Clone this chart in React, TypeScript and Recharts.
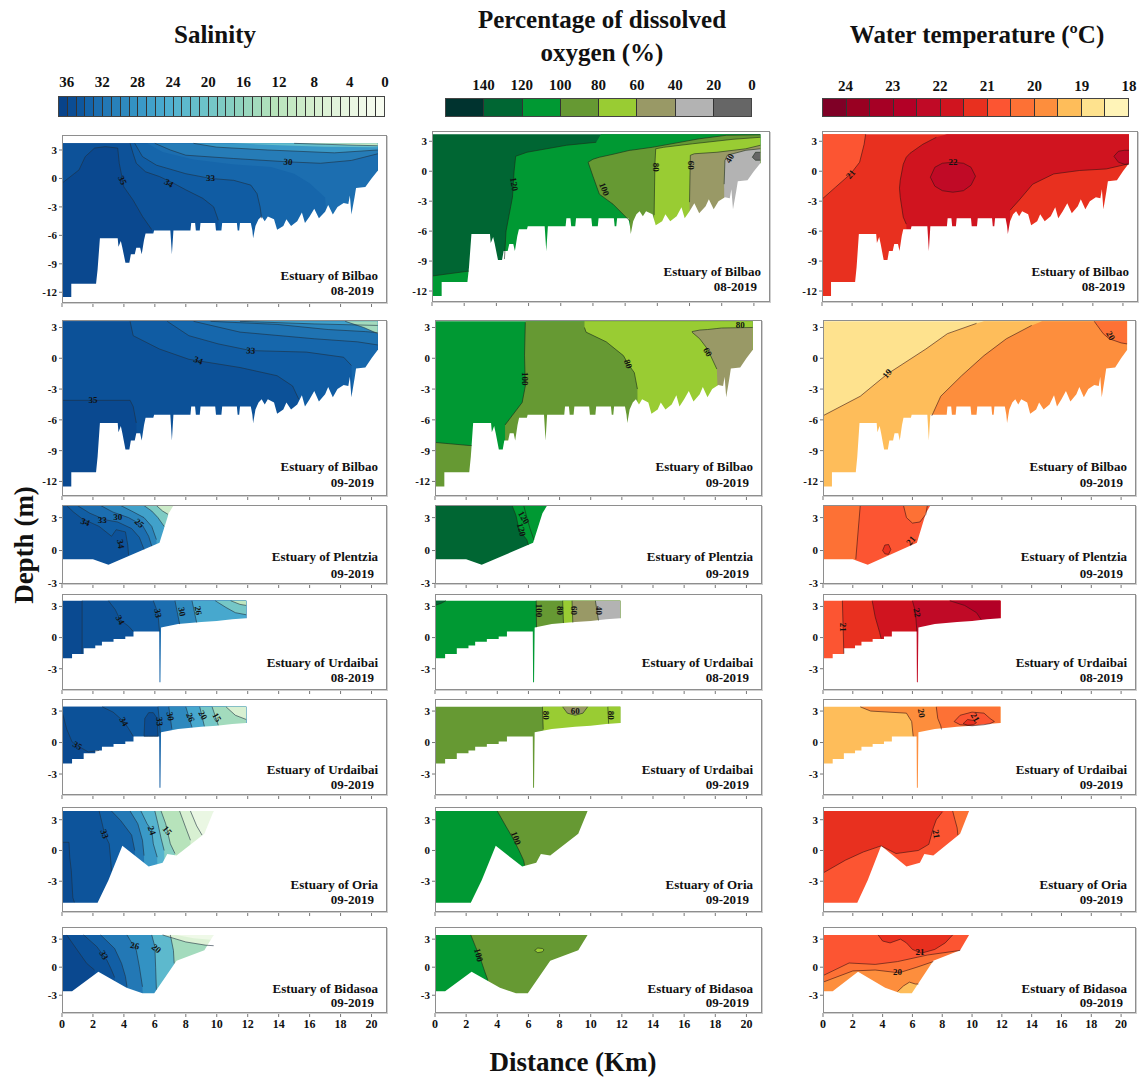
import React from "react";
import { ComposedChart, Area, Line, Scatter, XAxis, YAxis } from "recharts";

const FONT = '"Liberation Serif", "Times New Roman", Times, serif';

// axis ticks
const xTicks = [0, 2, 4, 6, 8, 10, 12, 14, 16, 18, 20];
const deepTicks = [3, 0, -3, -6, -9, -12];
const shallowTicks = [3, 0, -3];

// colour bar classes
const salBarValues = [36, 35, 34, 33, 32, 31, 30, 29, 28, 27, 26, 25, 24, 23, 22, 21, 20, 19, 18, 17, 16, 15, 14, 13, 12, 11, 10, 9, 8, 7, 6, 5, 4, 3, 2, 1, 0];
const salBarLabels = [36, 32, 28, 24, 20, 16, 12, 8, 4, 0];
const oxyBarValues = [150, 130, 110, 90, 70, 50, 30, 10];
const oxyBarLabels = [140, 120, 100, 80, 60, 40, 20, 0];
const tempBarValues = [24.25, 23.75, 23.25, 22.75, 22.25, 21.75, 21.25, 20.75, 20.25, 19.75, 19.25, 18.75, 18.25];
const tempBarLabels = [24, 23, 22, 21, 20, 19, 18];

// bathymetry: [distance km, depth m]
const bilbaoBed = [[0, -12.5], [0.6, -12.5], [0.6, -11.1], [2.2, -11.1], [2.3, -9.6], [2.45, -6.3], [3.6, -6.3], [3.65, -7.2], [3.8, -6.6], [3.9, -7.3], [4.1, -8.9], [4.35, -8.9], [4.45, -8.0], [4.7, -8.0], [4.8, -7.3], [5.05, -7.3], [5.15, -8.0], [5.3, -6.5], [5.4, -5.8], [5.9, -5.8], [5.95, -5.5], [7.0, -5.5], [7.1, -8.0], [7.2, -5.5], [8.3, -5.5], [8.35, -4.7], [8.6, -4.7], [8.65, -5.5], [8.9, -5.5], [8.95, -4.7], [9.9, -4.7], [9.95, -5.5], [10.3, -5.5], [10.35, -4.7], [11.3, -4.7], [11.35, -5.5], [11.45, -5.5], [11.5, -4.7], [12.2, -4.7], [12.3, -5.5], [12.35, -6.3], [12.5, -5.0], [12.7, -4.3], [12.9, -4.0], [13.1, -4.5], [13.3, -4.0], [13.7, -4.3], [13.9, -5.4], [14.3, -5.0], [14.5, -4.3], [14.8, -5.0], [15.2, -4.5], [15.5, -3.6], [15.7, -4.7], [16.0, -4.0], [16.3, -3.2], [16.6, -4.2], [17.0, -3.5], [17.2, -2.8], [17.5, -3.8], [17.8, -3.0], [18.2, -2.6], [18.5, -2.7], [18.6, -1.8], [18.7, -3.8], [18.9, -2.0], [19.0, -1.0], [19.6, -0.9], [20.0, 0.0], [20.4, 0.8]];
const plentziaBed = [[0, -0.8], [2.0, -0.8], [3.0, -1.3], [6.3, 0.7], [6.9, 3.4], [7.2, 4.1]];
const urdaibaiBed = [[0, -2], [0.65, -2], [0.65, -1.58], [1.4, -1.58], [1.4, -1.03], [2.15, -1.03], [2.15, -0.77], [2.58, -0.77], [2.58, -0.39], [3.33, -0.39], [3.33, -0.13], [4.09, -0.13], [4.09, 0.1], [4.62, 0.1], [4.62, 0.58], [6.28, 0.58], [6.3, -4.3], [6.36, -4.3], [6.4, 0.97], [7.5, 1.3], [9, 1.5], [10, 1.6], [11, 1.77], [11.9, 1.87]];
const oriaBed = [[0, -5.1], [2.3, -5.1], [3.0, -2.9], [3.9, 0.45], [5.6, -1.56], [6.5, -1.2], [6.8, -0.35], [7.4, -0.5], [9.2, 1.63], [9.8, 3.85]];
const bidasoaBed = [[0, -2.57], [0.65, -2.57], [2.35, -0.5], [4.17, -2.2], [5.2, -2.8], [5.96, -2.8], [7.4, 0.68], [9.2, 1.8], [9.8, 3.45]];

// contour regions: v = class value, p = [x, lower, upper?] (upper defaults to water surface)
const salB08 = [
  { v: 35.5, p: [[0, -13.3], [20.4, -13.3]] },
  { v: 34.5, ln: "lo", p: [[0, -0.5], [1.1, 0.9], [1.5, 2.3], [2.1, 3.2], [2.8, 3.35], [3.6, 3.2], [3.7, 1.6], [4.0, -0.9], [4.6, -2.3], [5.2, -4.0], [5.8, -5.4], [6.0, -13.3], [20.4, -13.3]] },
  { v: 33.6, ln: "lo", p: [[4.4, 3.7], [4.6, 2.6], [4.8, 1.6], [5.4, 0.7], [6.3, 0.2], [7.2, -0.5], [8.0, -1.2], [9.1, -2.1], [9.8, -3.0], [10.1, -4.4], [10.2, -13.3], [20.4, -13.3]] },
  { v: 32.8, ln: "lo", p: [[4.7, 3.7], [5.2, 2.3], [6.1, 1.4], [8.0, 0.5], [9.6, 0], [11.1, -0.2], [12.2, -0.7], [12.6, -1.6], [12.8, -3.0], [12.9, -4.2], [13.0, -13.3], [20.4, -13.3]] },
  { v: 32.0, p: [[5.5, 3.7], [6.5, 2.8], [8.5, 2.0], [11, 1.5], [13.5, 1.2], [15, 0.5], [16, -0.5], [17, -2], [17.5, -13.3], [20.4, -13.3]] },
  { v: 30.5, ln: "lo", p: [[6.0, 3.7], [7.0, 3.0], [8.0, 2.45], [11.1, 2.1], [14.6, 1.75], [16.7, 1.6], [18.7, 1.9], [20.4, 2.6]] },
  { v: 27, ln: "lo", p: [[8.5, 3.7], [10, 3.3], [13.3, 3.0], [17.6, 2.7], [20.4, 3.0]] },
  { v: 21, p: [[11, 3.7], [14, 3.5], [17, 3.35], [20.4, 3.3]] },
  { v: 10, ln: "lo", p: [[15, 3.7], [17, 3.6], [19, 3.5], [20.4, 3.45]] },
];
const salB09 = [
  { v: 35.4, p: [[0, -13.5], [20.4, -13.5]] },
  { v: 34.6, ln: "lo", p: [[0, -4.1], [4.4, -4.1], [4.6, -4.7], [4.8, -6.3], [4.9, -13.5], [20.4, -13.5]] },
  { v: 33.6, ln: "lo", p: [[4.4, 3.6], [4.6, 2.2], [6.3, 0.9], [8.2, -0.1], [11.5, -0.9], [13.9, -1.7], [14.9, -2.7], [15.3, -4.0], [15.5, -13.5], [20.4, -13.5]] },
  { v: 32.7, ln: "lo", p: [[6.8, 3.6], [8.2, 2.2], [10.1, 1.4], [12.2, 0.75], [15.8, 0.6], [18.2, 0.1], [18.7, -0.7], [19.0, -13.5], [20.4, -13.5]] },
  { v: 31.5, ln: "lo", p: [[8.5, 3.6], [11.5, 2.55], [16.3, 1.9], [19.1, 1.6], [20.4, 1.3]] },
  { v: 29.5, ln: "lo", p: [[9.6, 3.6], [13.9, 3.3], [17.2, 2.8], [19.6, 2.6], [20.4, 2.5]] },
  { v: 26, ln: "lo", p: [[11.5, 3.6], [16.3, 3.35], [20.4, 3.2]] },
  { v: 14, ln: "lo", p: [[18.3, 3.6], [19.5, 3.0], [20.4, 2.4]] },
];
const salPl = [
  { v: 34.5, p: [[0, -3.2], [7.2, -3.2]] },
  { v: 33.5, ln: "lo", p: [[0.3, 4.1], [0.75, 3.5], [1.3, 2.9], [2.4, 2.2], [3.2, 1.3], [3.5, 1.9], [4.1, 1.7], [4.25, 0.5], [4.3, -0.4], [4.35, -3.2], [7.2, -3.2]] },
  { v: 32, ln: "lo", p: [[1.0, 4.1], [1.8, 3.4], [2.8, 2.8], [3.6, 2.6], [4.5, 2.0], [5.0, 1.2], [5.3, 0.1], [5.35, -3.2], [7.2, -3.2]] },
  { v: 29.5, ln: "lo", p: [[2.5, 4.1], [3.3, 3.5], [4.3, 3.0], [5.2, 2.3], [5.6, 1.3], [5.8, 0.4], [5.85, -3.2], [7.2, -3.2]] },
  { v: 26, ln: "lo", p: [[3.8, 4.1], [4.5, 3.6], [5.3, 3.0], [5.8, 2.2], [6.1, 1.0], [6.15, -3.2], [7.2, -3.2]] },
  { v: 18, ln: "lo", p: [[5.3, 4.1], [5.8, 3.6], [6.2, 3.0], [6.6, 2.2], [6.65, -3.2], [7.2, -3.2]] },
  { v: 9, ln: "lo", p: [[6.1, 4.1], [6.5, 3.6], [6.85, 3.3], [6.9, -3.2], [7.2, -3.2]] },
];
const salU08 = [
  { v: 35.3, p: [[0, -5.2], [11.9, -5.2]] },
  { v: 34.6, ln: "lo", p: [[1.3, 3.55], [1.3, -1.55], [1.35, -5.2], [11.9, -5.2]] },
  { v: 33.7, ln: "lo", p: [[3.0, 3.55], [3.44, 2.7], [3.76, 1.7], [4.3, 1.1], [4.6, 0.6], [4.65, -5.2], [11.9, -5.2]] },
  { v: 32, ln: "lo", p: [[5.9, 3.55], [6.2, 2.35], [6.3, 0.6], [6.32, -5.2], [11.9, -5.2]] },
  { v: 29, ln: "lo", p: [[7.3, 3.55], [7.6, 1.3], [7.65, -5.2], [11.9, -5.2]] },
  { v: 25, ln: "lo", p: [[8.4, 3.55], [8.7, 1.45], [8.75, -5.2], [11.9, -5.2]] },
  { v: 19, ln: "lo", p: [[9.9, 3.55], [10.6, 2.9], [11.2, 2.4], [11.9, 2.2]] },
  { v: 11, ln: "lo", p: [[10.9, 3.55], [11.5, 3.2], [11.9, 3.1]] },
];
const salU09 = [
  { v: 35.3, p: [[0, -5.2], [11.9, -5.2]] },
  { v: 34.6, ln: "lo", p: [[0, 3.0], [0.3, 1.3], [0.65, 0.06], [1.0, -0.3], [1.7, -0.9], [2.4, -0.75], [2.45, -5.2], [11.9, -5.2]] },
  { v: 33.6, ln: "lo", p: [[2.6, 3.4], [3.3, 2.9], [4.0, 2.0], [4.3, 1.33], [4.6, 0.6], [4.65, -5.2], [11.9, -5.2]] },
  { v: 35.0, ln: "both", p: [[5.3, 0.6, 0.6], [5.35, 0.6, 2.3], [5.6, 0.6, 2.85], [5.9, 0.6, 2.85], [6.15, 0.6, 2.3], [6.2, 0.6, 0.6]] },
  { v: 32, ln: "lo", p: [[6.2, 3.4], [6.3, 2.0], [6.35, 0.9], [6.4, -5.2], [11.9, -5.2]] },
  { v: 29, ln: "lo", p: [[6.9, 3.4], [7.1, 1.3], [7.15, -5.2], [11.9, -5.2]] },
  { v: 25, ln: "lo", p: [[8.0, 3.4], [8.4, 1.45], [8.45, -5.2], [11.9, -5.2]] },
  { v: 19, ln: "lo", p: [[8.9, 3.4], [9.2, 1.55], [9.25, -5.2], [11.9, -5.2]] },
  { v: 14, ln: "lo", p: [[9.7, 3.4], [10.1, 1.65], [10.15, -5.2], [11.9, -5.2]] },
  { v: 7, ln: "lo", p: [[10.6, 3.4], [11.2, 2.6], [11.9, 2.2]] },
];
const salOr = [
  { v: 35.2, p: [[0, -6.2], [9.8, -6.2]] },
  { v: 34.3, ln: "lo", p: [[0, 0.8], [0.45, 0.8], [0.5, -0.65], [0.6, -1.95], [0.65, -3.25], [0.7, -4.6], [0.8, -5.05], [0.85, -6.2], [9.8, -6.2]] },
  { v: 33.3, ln: "lo", p: [[2.4, 3.85], [2.6, 2.6], [2.75, 1.6], [3.05, 0.65], [3.15, -1.0], [3.2, -2.0], [3.25, -6.2], [9.8, -6.2]] },
  { v: 31, ln: "lo", p: [[3.2, 3.85], [3.8, 2.9], [4.5, 1.5], [4.7, 0], [4.75, -6.2], [9.8, -6.2]] },
  { v: 27, ln: "lo", p: [[4.4, 3.85], [4.9, 2.6], [5.2, 1.0], [5.3, -0.5], [5.35, -6.2], [9.8, -6.2]] },
  { v: 23, ln: "lo", p: [[5.1, 3.85], [5.5, 2.6], [5.8, 1.95], [5.9, 0.65], [6.15, -0.65], [6.2, -6.2], [9.8, -6.2]] },
  { v: 17, ln: "lo", p: [[6.0, 3.85], [6.2, 2.6], [6.4, 1.2], [6.6, 0], [6.7, -6.2], [9.8, -6.2]] },
  { v: 12, ln: "lo", p: [[6.4, 3.85], [6.7, 2.6], [7.0, 0.65], [7.3, -0.3], [7.35, -6.2], [9.8, -6.2]] },
  { v: 7, ln: "lo", p: [[7.6, 3.85], [8.0, 2.2], [8.3, 1.0], [8.35, -6.2], [9.8, -6.2]] },
  { v: 3, ln: "lo", p: [[8.3, 3.85], [8.7, 2.4], [9.05, 1.5], [9.1, -6.2], [9.8, -6.2]] },
];
const salBi = [
  { v: 35.5, p: [[0, -5.1], [9.8, -5.1]] },
  { v: 34.6, ln: "lo", p: [[0.3, 3.45], [1.0, 1.8], [1.6, 0.4], [2.1, -0.3], [2.15, -5.1], [9.8, -5.1]] },
  { v: 33.4, ln: "lo", p: [[1.4, 3.45], [2.25, 2.2], [2.9, 0.75], [3.2, -0.3], [3.4, -1.1], [3.45, -5.1], [9.8, -5.1]] },
  { v: 31, ln: "lo", p: [[2.5, 3.45], [3.4, 2.0], [3.85, 0.4], [4.1, -1.0], [4.2, -2.1], [4.25, -5.1], [9.8, -5.1]] },
  { v: 28, ln: "lo", p: [[4.2, 3.45], [4.8, 1.8], [5.0, 0.04], [5.2, -2.1], [5.25, -5.1], [9.8, -5.1]] },
  { v: 22, ln: "lo", p: [[5.8, 3.45], [6.0, 2.2], [6.05, 0], [6.1, -2.4], [6.15, -5.1], [9.8, -5.1]] },
  { v: 14, ln: "lo", p: [[7.0, 3.45], [7.2, 1.8], [7.25, 0.4], [7.3, -5.1], [9.8, -5.1]] },
  { v: 6, ln: "lo", p: [[6.5, 3.45], [8.0, 2.7], [9.3, 2.35], [9.8, 2.3]] },
  { v: 2, p: [[7.4, 3.45], [8.5, 3.1], [9.8, 2.9]] },
];

const oxyB08 = [
  { v: 130, p: [[0, -13.3], [20.4, -13.3]] },
  { v: 110, ln: "hi", p: [[0, -13.3, -10.5], [2.3, -13.3, -10.0]] },
  { v: 110, ln: "hi", p: [[4.5, -13.3, -8.8], [4.6, -13.3, -6.0], [4.8, -13.3, -4.3], [5.0, -13.3, -2.6], [5.1, -13.3, 0], [5.2, -13.3, 1.5], [5.9, -13.3, 1.9], [8.35, -13.3, 2.6], [10.2, -13.3, 2.9], [10.5, -13.3, 3.7], [20.4, -13.3, 3.7]] },
  { v: 90, ln: "both", p: [[9.7, 0.9, 0.9], [10.0, -0.5, 1.2], [10.4, -2.3, 1.4], [11.25, -3.3, 1.7], [12.3, -5.0, 2.1], [12.35, -13.3, 2.1], [13.7, -13.3, 2.4], [16.6, -13.3, 3.25], [18.3, -13.3, 3.6], [20.4, -13.3, 3.65]] },
  { v: 70, ln: "both", p: [[13.8, -4.4, -4.4], [13.85, -13.3, 0.7], [13.9, -13.3, 2.25], [14.4, -13.3, 2.4], [16.2, -13.3, 2.75], [18.7, -13.3, 3.2], [20.4, -13.3, 3.4]] },
  { v: 50, ln: "both", p: [[16.0, -3.1, -3.1], [16.05, -13.3, 1.6], [16.3, -13.3, 1.75], [17.7, -13.3, 1.9], [19.5, -13.3, 2.25], [20.4, -13.3, 2.6]] },
  { v: 30, ln: "both", p: [[18.15, -1.3, -1.3], [18.2, -13.3, 1.07], [18.35, -13.3, 1.6], [19.5, -13.3, 2.1], [20.4, -13.3, 2.25]] },
  { v: 10, ln: "both", p: [[19.9, 1.4, 1.4], [20.1, 1.1, 1.9], [20.4, 1.1, 1.9]] },
];
const oxyB09 = [
  { v: 110, p: [[0, -13.5], [20.4, -13.5]] },
  { v: 90, ln: "hi", p: [[0, -13.5, -8.2], [2.2, -13.5, -8.5], [2.35, -13.5, -8.5]] },
  { v: 90, ln: "hi", p: [[4.5, -13.5, -6.5], [4.95, -13.5, -5.6], [5.6, -13.5, -4.3], [5.8, -13.5, -2.7], [5.75, -13.5, 0.3], [5.8, -13.5, 3.5], [5.85, -13.5, 3.6], [20.4, -13.5, 3.6]] },
  { v: 70, ln: "lo", p: [[9.6, 3.0], [9.7, 2.55], [11, 1.6], [12.1, 0.26], [12.4, -0.55], [12.8, -1.4], [13, -3.0], [13.05, -13.5], [20.4, -13.5]] },
  { v: 50, ln: "both", p: [[16.5, 2.55, 2.6], [17, 1.9, 2.75], [17.5, 0.9, 2.8], [18.1, -1.05, 2.9], [18.4, -13.5, 2.95], [20.4, -13.5, 3.0]] },
];
const oxyPl = [
  { v: 130, p: [[0, -3.2], [7.2, -3.2]] },
  { v: 110, ln: "lo", p: [[4.95, 4.1], [5.2, 3.2], [5.4, 1.9], [5.9, 0.98], [6.0, 0.5], [6.05, -3.2], [7.2, -3.2]] },
  { v: 110, ln: "lo", p: [[5.7, 4.1], [5.9, 3.0], [6.1, 2.0], [6.35, 1.0], [6.4, -3.2], [7.2, -3.2]] },
];
const oxyU08 = [
  { v: 110, p: [[0, -5.2], [11.9, -5.2]] },
  { v: 130, ln: "lo", p: [[0, 3.1], [0.4, 3.3], [0.7, 3.55]] },
  { v: 90, ln: "lo", p: [[6.5, 3.55], [6.52, 1.0], [6.55, -5.2], [11.9, -5.2]] },
  { v: 70, ln: "lo", p: [[8.2, 3.55], [8.25, 1.4], [8.3, -5.2], [11.9, -5.2]] },
  { v: 50, ln: "lo", p: [[8.8, 3.55], [8.85, 1.45], [8.9, -5.2], [11.9, -5.2]] },
  { v: 30, ln: "lo", p: [[10.3, 3.55], [10.5, 1.65], [10.55, -5.2], [11.9, -5.2]] },
];
const oxyU09 = [
  { v: 90, p: [[0, -5.2], [11.9, -5.2]] },
  { v: 70, ln: "lo", p: [[6.9, 3.4], [6.95, 1.25], [7.0, -5.2], [11.9, -5.2]] },
  { v: 50, ln: "both", p: [[8.2, 3.4, 3.4], [8.5, 2.8, 3.4], [9.0, 2.6, 3.4], [9.5, 2.8, 3.4], [9.8, 3.4, 3.4]] },
  { v: 70, ln: "lo", p: [[11.1, 3.4], [11.15, 1.8], [11.2, -5.2], [11.9, -5.2]] },
];
const oxyOr = [
  { v: 110, p: [[0, -6.2], [9.8, -6.2]] },
  { v: 90, ln: "lo", p: [[4.0, 3.85], [4.5, 2.5], [5.0, 1.2], [5.4, 0], [5.7, -1.0], [5.75, -1.45], [5.8, -6.2], [9.8, -6.2]] },
];
const oxyBi = [
  { v: 110, p: [[0, -5.1], [9.8, -5.1]] },
  { v: 90, ln: "lo", p: [[2.3, 3.45], [2.6, 2.2], [2.9, 1.0], [3.2, -0.5], [3.4, -1.4], [3.45, -5.1], [9.8, -5.1]] },
  { v: 70, ln: "both", p: [[6.4, 1.8, 1.8], [6.6, 1.55, 2.05], [6.9, 1.65, 2.0], [7.0, 1.85, 1.85]] },
];

const tmpB08 = [
  { v: 21.25, p: [[0, -13.3], [20.4, -13.3]] },
  { v: 20.75, ln: "lo", p: [[0, -2.8], [0.9, -1.6], [1.9, -0.27], [2.5, 0.9], [2.8, 2.7], [2.9, 3.7]] },
  { v: 21.75, ln: "both", p: [[5.15, -1.7, -1.7], [5.2, -2.6, -0.9], [5.4, -4.6, 0.7], [5.6, -5.3, 1.4], [5.85, -13.3, 1.8], [6.7, -13.3, 2.7], [7.6, -13.3, 3.4], [8.3, -13.3, 3.7], [12.4, -13.3, 3.7], [12.5, -3.9, 3.7], [13.1, -2.9, 3.7], [14, -1.3, 3.7], [15.4, -0.27, 3.7], [17.1, 0.07, 3.7], [18.9, 0.23, 3.7], [20.4, 0.75, 3.7]] },
  { v: 22.25, ln: "both", p: [[7.2, -0.6, -0.6], [7.5, -1.5, 0.4], [8.0, -1.95, 0.8], [8.7, -2.1, 0.9], [9.4, -1.95, 0.8], [9.9, -1.4, 0.4], [10.2, -0.5, -0.5]] },
  { v: 22.25, ln: "both", p: [[19.4, 1.5, 1.5], [19.7, 0.9, 2.0], [20.1, 0.7, 2.1], [20.4, 0.7, 2.1]] },
];
const tmpB09 = [
  { v: 18.75, p: [[0, -13.5], [20.4, -13.5]] },
  { v: 19.25, ln: "hi", p: [[0, -13.5, -5.6], [2.5, -13.5, -3.7], [4.3, -13.5, -1.55], [6.9, -13.5, 0.9], [8.35, -13.5, 2.4], [10.3, -13.5, 3.4], [10.8, -13.5, 3.6], [20.4, -13.5, 3.6]] },
  { v: 19.75, ln: "hi", p: [[7.3, -13.5, -5.6], [7.4, -13.5, -5.3], [7.9, -13.5, -3.7], [9.3, -13.5, -1.7], [10.8, -13.5, 0.26], [12.3, -13.5, 1.9], [14.0, -13.5, 3.2], [14.7, -13.5, 3.6], [20.4, -13.5, 3.6]] },
  { v: 20.25, ln: "lo", p: [[18.2, 3.6], [18.4, 3.2], [18.8, 2.4], [19.2, 1.9], [20, 1.5], [20.4, 1.4]] },
];
const tmpPl = [
  { v: 20.75, p: [[0, -3.2], [7.2, -3.2]] },
  { v: 20.25, ln: "lo", p: [[0, -3.2], [2.2, -3.2], [2.2, -0.8], [2.5, 4.1]] },
  { v: 20.25, ln: "lo", p: [[5.4, 4.1], [5.6, 3.0], [6.0, 2.5], [6.5, 2.6], [6.9, 3.3], [7.0, 4.1]] },
  { v: 21.25, ln: "both", p: [[4.0, 0.0, 0.0], [4.15, -0.3, 0.5], [4.4, -0.35, 0.55], [4.55, 0.1, 0.1]] },
];
const tmpU08 = [
  { v: 20.75, p: [[0, -5.2], [11.9, -5.2]] },
  { v: 21.25, ln: "lo", p: [[1.3, 3.55], [1.35, 1.0], [1.4, -1.55], [1.45, -5.2], [11.9, -5.2]] },
  { v: 21.75, ln: "lo", p: [[3.3, 3.55], [3.5, 2.0], [3.8, 0.5], [3.9, -0.1], [3.95, -5.2], [11.9, -5.2]] },
  { v: 22.25, ln: "lo", p: [[6.0, 3.55], [6.2, 2.5], [6.3, 0.6], [6.32, -5.2], [11.9, -5.2]] },
  { v: 22.75, ln: "lo", p: [[8.5, 3.55], [9.5, 3.1], [10.3, 2.4], [10.6, 1.75], [10.65, -5.2], [11.9, -5.2]] },
];
const tmpU09 = [
  { v: 19.25, p: [[0, -5.2], [11.9, -5.2]] },
  { v: 19.75, ln: "lo", p: [[2.5, 3.4], [3.2, 3.0], [5.6, 2.8], [5.95, 2.0], [6.05, 0.6], [6.1, -5.2], [11.9, -5.2]] },
  { v: 20.25, ln: "lo", p: [[7.6, 3.4], [7.7, 2.3], [7.9, 1.6], [7.95, 1.25], [8.0, -5.2], [11.9, -5.2]] },
  { v: 20.75, ln: "both", p: [[8.8, 2.0, 2.0], [9.2, 1.7, 2.6], [10, 1.6, 2.9], [10.8, 1.7, 2.8], [11.2, 1.8, 2.3], [11.5, 2.0, 2.0]] },
  { v: 21.25, ln: "both", p: [[9.4, 1.8, 1.8], [9.7, 1.65, 2.2], [10.1, 1.7, 2.1], [10.3, 1.9, 1.9]] },
];
const tmpOr = [
  { v: 21.25, p: [[0, -6.2], [9.8, -6.2]] },
  { v: 20.75, ln: "hi", p: [[0, -6.2, -2.2], [1.5, -6.2, -0.95], [2.7, -6.2, -0.15], [3.9, -6.2, 0.45], [4.9, -6.2, -0.3], [6.4, -6.2, 0], [7.1, -6.2, 0.6], [7.4, -6.2, 2.2], [7.6, -6.2, 3.0], [8.0, -6.2, 3.75], [8.1, -6.2, 3.85], [9.8, -6.2, 3.85]] },
  { v: 20.25, ln: "lo", p: [[8.7, 3.85], [8.85, 3.0], [9.0, 2.2], [9.05, 1.5], [9.1, -6.2], [9.8, -6.2]] },
];
const tmpBi = [
  { v: 20.75, p: [[0, -5.1], [9.8, -5.1]] },
  { v: 20.25, ln: "hi", p: [[0, -5.1, -0.9], [1.75, -5.1, 0.45], [3.5, -5.1, 0.3], [5, -5.1, 0.6], [7, -5.1, 1.3], [9, -5.1, 1.75], [9.2, -5.1, 1.8]] },
  { v: 19.75, ln: "hi", p: [[0, -5.1, -1.6], [2, -5.1, -0.4], [3.5, -5.1, -0.3], [5.1, -5.1, -0.6], [6.3, -5.1, 0], [7.4, -5.1, 0.6]] },
  { v: 19.25, ln: "hi", p: [[5.0, -5.1, -2.6], [5.4, -5.1, -2.0], [5.8, -5.1, -1.6], [6.2, -5.1, -1.8], [6.4, -5.1, -1.8]] },
  { v: 21.25, ln: "lo", p: [[3.7, 3.45], [4.0, 2.8], [4.5, 2.6], [5.2, 3.0], [5.6, 2.6], [6.0, 1.9], [6.6, 1.5], [7.5, 1.9], [8.2, 2.6], [8.7, 3.45]] },
];

// contour labels: [x, depth, text, rotation]
const labSalB08 = [[3.9, -0.2, "35", 65], [6.9, -0.5, "34", 30], [9.6, 0, "33", 0], [14.6, 1.75, "30", 5]];
const labSalB09 = [[2.0, -4.1, "35", 0], [8.8, -0.2, "34", 20], [12.2, 0.75, "33", 5]];
const labSalPl = [[1.5, 2.6, "34", 20], [2.6, 2.75, "33", 0], [3.6, 3.1, "30", 0], [5.0, 2.5, "25", 40], [3.8, 0.6, "34", 80]];
const labSalU08 = [[3.76, 1.7, "34", 60], [6.2, 2.35, "33", 80], [7.75, 2.5, "30", 80], [8.8, 2.6, "26", 80]];
const labSalU09 = [[1.0, -0.3, "35", 30], [4.0, 2.0, "34", 60], [6.3, 2.0, "33", 85], [7.0, 2.5, "30", 80], [8.3, 2.4, "26", 70], [9.1, 2.6, "20", 60], [10.0, 2.4, "15", 60]];
const labSalOr = [[2.75, 1.6, "33", 70], [5.8, 1.95, "24", 70], [6.8, 1.95, "15", 50]];
const labSalBi = [[2.7, 1.3, "33", 60], [4.7, 2.3, "26", 10], [6.1, 2.0, "20", 40]];
const labOxyB08 = [[5.1, -1.3, "120", 80], [10.7, -1.8, "100", 70], [13.9, 0.4, "80", 90], [16.1, 0.6, "60", 90], [18.5, 1.3, "40", -60]];
const labOxyB09 = [[5.8, -2.0, "100", 90], [12.4, -0.55, "80", 70], [17.5, 0.6, "60", 60], [19.6, 3.2, "80", 0]];
const labOxyPl = [[5.7, 3.0, "120", 60], [5.55, 1.9, "120", 75]];
const labOxyU08 = [[6.7, 2.6, "100", 90], [8.0, 2.6, "80", 90], [8.9, 2.6, "60", 90], [10.5, 2.6, "40", 90]];
const labOxyU09 = [[7.15, 2.6, "80", 90], [9.0, 3.0, "60", 0], [11.3, 2.6, "80", 90]];
const labOxyOr = [[5.2, 1.2, "100", 70]];
const labOxyBi = [[2.8, 1.3, "100", 75]];
const labTmpB08 = [[1.9, -0.3, "21", -50], [8.7, 0.9, "22", 0]];
const labTmpB09 = [[4.3, -1.5, "19", -50], [19.3, 2.2, "20", 60]];
const labTmpPl = [[5.9, 0.9, "21", -50]];
const labTmpU08 = [[1.35, 1.0, "21", 90], [6.3, 2.4, "22", 80]];
const labTmpU09 = [[6.6, 2.8, "20", 80], [10.2, 2.4, "21", 60]];
const labTmpOr = [[7.6, 1.6, "21", 80]];
const labTmpBi = [[6.5, 1.6, "21", 0], [5.0, -0.5, "20", 0]];

// ---------- colours ----------
const SAL_STOPS: [number, string][] = [
  [0, "#f7fcf0"], [4, "#e6f5df"], [8, "#d3eecd"], [12, "#b7e3bb"], [16, "#8fd3bf"],
  [20, "#6cc3c9"], [24, "#4eafd1"], [28, "#3392c3"], [31, "#2378b5"], [33, "#1464aa"],
  [34, "#0e579e"], [35, "#0b4d94"], [36, "#08438a"],
];
function hex(h: string) {
  return [1, 3, 5].map((i) => parseInt(h.slice(i, i + 2), 16));
}
function salColor(v: number) {
  for (let i = 1; i < SAL_STOPS.length; i++) {
    const [v1, c1] = SAL_STOPS[i];
    const [v0, c0] = SAL_STOPS[i - 1];
    if (v <= v1) {
      const t = (v - v0) / (v1 - v0);
      const a = hex(c0), b = hex(c1);
      return `rgb(${a.map((x, k) => Math.round(x + (b[k] - x) * t)).join(",")})`;
    }
  }
  return SAL_STOPS[SAL_STOPS.length - 1][1];
}
function oxyColor(v: number) {
  if (v >= 140) return "#00332f";
  if (v >= 120) return "#006633";
  if (v >= 100) return "#009933";
  if (v >= 80) return "#669933";
  if (v >= 60) return "#99cc33";
  if (v >= 40) return "#999966";
  if (v >= 20) return "#b3b3b3";
  return "#666666";
}
const TEMP_COLORS = ["#7f0026", "#990022", "#a60025", "#b30026", "#c00a26", "#d0141f", "#e8301f", "#fc5532", "#fd7135", "#fd8e3d", "#febd5a", "#fee28e", "#fff4b8"];
function tempColor(v: number) {
  const i = Math.min(12, Math.max(0, Math.floor((24.5 - v) / 0.5)));
  return TEMP_COLORS[i];
}

// ---------- layout ----------
const COLS = [
  { left: 62, w: 325, xMax: 21 },
  { left: 435, w: 327, xMax: 21 },
  { left: 823, w: 313, xMax: 21 },
];
const ROWS: any[] = [
  { top: 135, h: 168, dom: [-13.13, 4.58], ticks: deepTicks, lab: 141, gap: 15,
    over: [null, { left: 432, w: 338, top: 131, h: 171, dom: [-13.1, 4.03] }, { left: 822, w: 316, top: 131, h: 171, dom: [-13.1, 4.03] }] },
  { top: 320, h: 176, dom: [-13.42, 3.73], ticks: deepTicks, lab: 147, gap: 16 },
  { top: 505, h: 79, dom: [-3.05, 4.15], ticks: shallowTicks, lab: 52, gap: 17 },
  { top: 594, h: 96, dom: [-5.05, 4.2], ticks: shallowTicks, lab: 69, gap: 15 },
  { top: 699, h: 96, dom: [-5.0, 4.15], ticks: shallowTicks, lab: 71, gap: 15 },
  { top: 807, h: 105, dom: [-6.0, 4.24], ticks: shallowTicks, lab: 78, gap: 15 },
  { top: 927, h: 86, dom: [-4.9, 4.3], ticks: shallowTicks, lab: 62, gap: 14 },
];

const EST = [
  { bed: bilbaoBed, s: 3.7, name: "Estuary of Bilbao", date: "08-2019" },
  { bed: bilbaoBed, s: 3.6, name: "Estuary of Bilbao", date: "09-2019" },
  { bed: plentziaBed, s: 4.1, name: "Estuary of Plentzia", date: "09-2019" },
  { bed: urdaibaiBed, s: 3.55, name: "Estuary of Urdaibai", date: "08-2019" },
  { bed: urdaibaiBed, s: 3.4, name: "Estuary of Urdaibai", date: "09-2019" },
  { bed: oriaBed, s: 3.85, name: "Estuary of Oria", date: "09-2019" },
  { bed: bidasoaBed, s: 3.45, name: "Estuary of Bidasoa", date: "09-2019" },
];

const VARS = [
  { layers: [salB08, salB09, salPl, salU08, salU09, salOr, salBi], labels: [labSalB08, labSalB09, labSalPl, labSalU08, labSalU09, labSalOr, labSalBi], color: salColor, stroke: "#1f2f3f" },
  { layers: [oxyB08, oxyB09, oxyPl, oxyU08, oxyU09, oxyOr, oxyBi], labels: [labOxyB08, labOxyB09, labOxyPl, labOxyU08, labOxyU09, labOxyOr, labOxyBi], color: oxyColor, stroke: "#1a2a1a" },
  { layers: [tmpB08, tmpB09, tmpPl, tmpU08, tmpU09, tmpOr, tmpBi], labels: [labTmpB08, labTmpB09, labTmpPl, labTmpU08, labTmpU09, labTmpOr, labTmpBi], color: tempColor, stroke: "#3a1212" },
];

function geom(r: number, c: number) {
  const row = ROWS[r];
  const base = { ...COLS[c], top: row.top, h: row.h, dom: row.dom };
  const o = row.over && row.over[c];
  return o ? { ...base, ...o } : base;
}

const tickY = { fontSize: 11, fontWeight: 700, fill: "#111", fontFamily: FONT };
const tickX = { fontSize: 12, fontWeight: 700, fill: "#111", fontFamily: FONT };

function Panel({ r, c }: { r: number; c: number }) {
  const g = geom(r, c);
  const row = ROWS[r];
  const est = EST[r];
  const vv = VARS[c];
  const layers: any[] = vv.layers[r];
  const labels: any[] = vv.labels[r];
  const [y0] = g.dom;
  const s = est.s;
  const W = 40 + g.w + 6;
  const H = 6 + g.h + 22;
  const last = r === ROWS.length - 1;
  const hiOf = (q: number[]) => (q.length > 2 ? q[2] : s);
  // white ground below the bed, carried a little past the head of the estuary
  const end = est.bed[est.bed.length - 1];
  const mask = [...est.bed, [end[0] + 0.25, end[1]]].map(([x, y]) => ({ x, r: [y0 - 2, y] }));
  const lines: any[] = [];
  layers.forEach((l, i) => {
    if (l.ln === "lo" || l.ln === "both")
      lines.push({ k: `lo${i}`, d: l.p.map((q: number[]) => ({ x: q[0], y: q[1] > y0 + 0.05 ? q[1] : null })) });
    if (l.ln === "hi" || l.ln === "both")
      lines.push({ k: `hi${i}`, d: l.p.map((q: number[]) => ({ x: q[0], y: hiOf(q) < s - 0.05 ? hiOf(q) : null })) });
  });
  const labData = labels.map(([x, y, t, a]) => ({ x, y, t, a }));

  return (
    <div style={{ position: "absolute", left: g.left - 40, top: g.top - 6, width: W, height: H }}>
      <ComposedChart width={W} height={H} margin={{ top: 2, right: 6, bottom: 0, left: 0 }}>
        <XAxis xAxisId="b" type="number" dataKey="x" domain={[0, g.xMax]} ticks={xTicks} interval={0}
          allowDataOverflow height={22} axisLine={false} tickSize={4} tickLine={{ stroke: "#777" }}
          tick={tickX} tickFormatter={last ? (v: number) => String(v) : () => ""} />
        <XAxis xAxisId="t" orientation="top" type="number" domain={[0, g.xMax]} ticks={xTicks} interval={0}
          allowDataOverflow height={4} axisLine={false} tickSize={4} tickLine={{ stroke: "#777" }}
          tickFormatter={() => ""} />
        <YAxis type="number" domain={g.dom} ticks={row.ticks} interval={0} allowDataOverflow width={40}
          axisLine={false} tickSize={3} tickLine={{ stroke: "#777" }} tick={tickY} />
        {layers.map((l, i) => (
          <Area key={`a${i}`} xAxisId="b" type="linear" dataKey="r" isAnimationActive={false}
            data={l.p.map((q: number[]) => ({ x: q[0], r: [q[1], hiOf(q)] }))}
            fill={vv.color(l.v)} fillOpacity={1} stroke="none" dot={false} activeDot={false} />
        ))}
        {lines.map((ln) => (
          <Line key={ln.k} xAxisId="b" type="linear" dataKey="y" data={ln.d} isAnimationActive={false}
            stroke={vv.stroke} strokeWidth={0.7} strokeOpacity={0.85} dot={false} activeDot={false} />
        ))}
        <Area xAxisId="b" type="linear" dataKey="r" data={mask} isAnimationActive={false}
          fill="#ffffff" fillOpacity={1} stroke="none" dot={false} activeDot={false} />
        <Scatter xAxisId="b" dataKey="y" data={labData} isAnimationActive={false}
          shape={(p: any) => (
            <text x={p.cx} y={p.cy} textAnchor="middle" dominantBaseline="central"
              transform={`rotate(${p.payload.a} ${p.cx} ${p.cy})`}
              fontSize={9} fontWeight={700} fontFamily={FONT} fill="#111">{p.payload.t}</text>
          )} />
      </ComposedChart>
      <div style={{ position: "absolute", left: 40, top: 6, width: g.w, height: g.h, border: "1px solid #8e8e8e", boxSizing: "border-box", boxShadow: "1px 1px 0 #cfcfcf", pointerEvents: "none" }} />
      <div style={{ position: "absolute", right: 15, top: 6 + row.lab - 8, fontSize: 13, fontWeight: 700, whiteSpace: "nowrap", lineHeight: "16px", color: "#111" }}>{est.name}</div>
      <div style={{ position: "absolute", right: 19, top: 6 + row.lab + row.gap - 8, fontSize: 13, fontWeight: 700, whiteSpace: "nowrap", lineHeight: "16px", color: "#111" }}>{est.date}</div>
    </div>
  );
}

function ColorBar({ left, top, width, height, colors, labels, pos, labTop }: any) {
  return (
    <>
      <div style={{ position: "absolute", left, top, width, height, display: "flex", border: "1px solid #444", boxSizing: "border-box" }}>
        {colors.map((col: string, i: number) => (
          <div key={i} style={{ flex: 1, background: col, borderRight: i < colors.length - 1 ? "1px solid #333" : "none" }} />
        ))}
      </div>
      {labels.map((t: number, i: number) => (
        <div key={t} style={{ position: "absolute", left: pos(i) - 30, width: 60, top: labTop, textAlign: "center", fontSize: 15, fontWeight: 700, lineHeight: "16px" }}>{t}</div>
      ))}
    </>
  );
}

export default function App() {
  const title = { position: "absolute" as const, fontSize: 25, fontWeight: 700, textAlign: "center" as const, lineHeight: "30px", whiteSpace: "nowrap" as const };
  const salCw = 327 / salBarValues.length;
  const oxyCw = 307 / oxyBarValues.length;
  const tmpCw = 307 / tempBarValues.length;
  return (
    <div style={{ position: "absolute", left: 0, top: 0, width: 1144, height: 1082, background: "#fff", fontFamily: FONT, color: "#111", overflow: "hidden" }}>
      <div style={{ ...title, left: 115, width: 200, top: 20 }}>Salinity</div>
      <div style={{ ...title, left: 452, width: 300, top: 5 }}>Percentage of dissolved</div>
      <div style={{ ...title, left: 452, width: 300, top: 38 }}>oxygen (%)</div>
      <div style={{ ...title, left: 827, width: 300, top: 20 }}>Water temperature (ºC)</div>

      <ColorBar left={58} top={96} width={327} height={21} colors={salBarValues.map(salColor)}
        labels={salBarLabels} pos={(i: number) => 58 + (37 - salBarLabels[i]) * salCw} labTop={74} />
      <ColorBar left={445} top={98} width={307} height={19} colors={oxyBarValues.map(oxyColor)}
        labels={oxyBarLabels} pos={(i: number) => 445 + (i + 1) * oxyCw} labTop={77} />
      <ColorBar left={822} top={98} width={307} height={19} colors={tempBarValues.map(tempColor)}
        labels={tempBarLabels} pos={(i: number) => 822 + (2 * i + 1) * tmpCw} labTop={78} />

      {ROWS.map((_, r) => [0, 1, 2].map((c) => <Panel key={`${r}-${c}`} r={r} c={c} />))}

      <div style={{ position: "absolute", left: 24, top: 545, transform: "translate(-50%, -50%) rotate(-90deg)", fontSize: 27, fontWeight: 700, whiteSpace: "nowrap" }}>Depth (m)</div>
      <div style={{ position: "absolute", left: 573, top: 1062, transform: "translate(-50%, -50%)", fontSize: 27, fontWeight: 700, whiteSpace: "nowrap" }}>Distance (Km)</div>
    </div>
  );
}
